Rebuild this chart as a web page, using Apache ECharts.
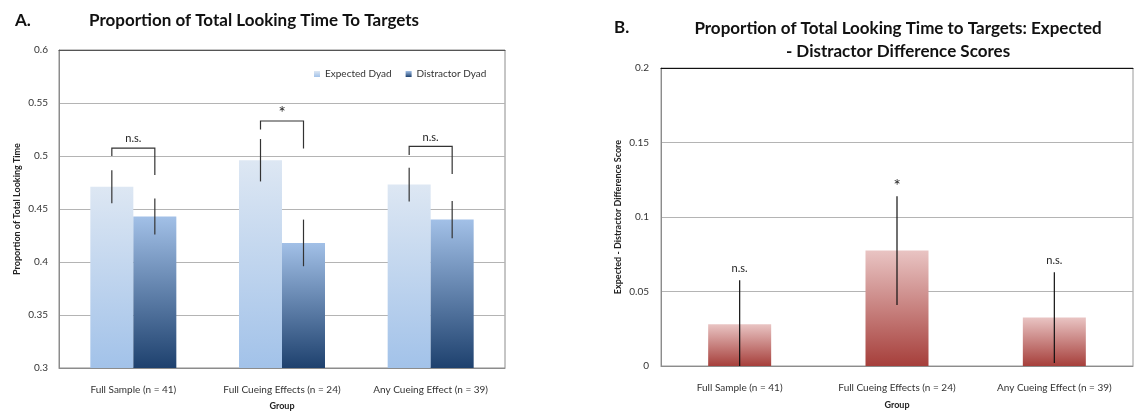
<!DOCTYPE html>
<html><head><meta charset="utf-8">
<script src="https://cdn.jsdelivr.net/npm/echarts@6/dist/echarts.min.js"></script>
<style>html,body{margin:0;padding:0;background:#fff}#c{width:1136px;height:412px}</style>
</head><body><div id="c"></div>
<script>
// ---- data ----
const categories = ['Full Sample (n = 41)', 'Full Cueing Effects (n = 24)', 'Any Cueing Effect (n = 39)'];
const expectedDyad = [0.471, 0.496, 0.473];
const expectedErr = [0.0155, 0.020, 0.016];
const distractorDyad = [0.443, 0.418, 0.440];
const distractorErr = [0.017, 0.022, 0.0175];
const bracketTop = [0.5075, 0.533, 0.509];
const bracketLeftEnd = [0.500, 0.525, 0.501];
const bracketRightEnd = [0.482, 0.507, 0.483];
const leftSig = ['n.s.', '*', 'n.s.'];
const leftTickLabels = ['0.3', '0.35', '0.4', '0.45', '0.5', '0.55', '0.6'];

const diffScore = [0.028, 0.0775, 0.0325];
const diffErr = [0.0295, 0.0365, 0.0305];
const rightSig = ['n.s.', '*', 'n.s.'];
const rightTickLabels = ['0', '0.05', '0.1', '0.15', '0.2'];

// ---- style ----
const FONT = 'Lato, "Liberation Sans", sans-serif';
const LBW = 43;   // left bar width px
const RBW = 63;   // right bar width px
const grad = (a, b) => new echarts.graphic.LinearGradient(0, 0, 0, 1, [{offset: 0, color: a}, {offset: 1, color: b}]);
const expColor = grad('#dde7f3', '#a2c2e9');
const disColor = grad('#a2c0e7', '#1e416e');
const redColor = grad('#e9c4c3', '#a63f3b');
const sigFont = s => (s === '*' ? '17px ' : '11px ') + FONT;
const sigLift = s => (s === '*' ? 0 : 5);

const chart = echarts.init(document.getElementById('c'), null, {renderer: 'canvas'});

function errSeries(name, vals, errs, offset, color, xi, yi, sig) {
  return {
    type: 'custom', name: name, xAxisIndex: xi, yAxisIndex: yi, z: 5, clip: true,
    data: vals.map((v, i) => [i, v - errs[i], v + errs[i]]),
    renderItem: function (params, api) {
      const i = api.value(0);
      const lo = api.coord([i, api.value(1)]);
      const hi = api.coord([i, api.value(2)]);
      const x = lo[0] + offset;
      const children = [{type: 'line', shape: {x1: x, y1: lo[1], x2: x, y2: hi[1]}, style: {stroke: color, lineWidth: 1.2}}];
      if (sig) {
        const s = sig[params.dataIndex];
        children.push({type: 'text', x: x, y: hi[1] - 1 - sigLift(s), style: {text: s, align: 'center', verticalAlign: 'bottom', font: sigFont(s), fill: '#222'}});
      }
      return {type: 'group', children: children};
    }
  };
}

const option = {
  backgroundColor: '#fff',
  animation: false,
  textStyle: {fontFamily: FONT},
  title: [
    {text: 'A.', left: 10, top: 7, textStyle: {fontFamily: FONT, fontSize: 17, fontWeight: 'bold', color: '#111'}},
    {text: 'Proportion of Total Looking Time To Targets', left: 84, top: 7, textStyle: {fontFamily: FONT, fontSize: 17, fontWeight: 'bold', color: '#111'}},
    {text: 'B.', left: 609, top: 14, textStyle: {fontFamily: FONT, fontSize: 17, fontWeight: 'bold', color: '#111'}},
    {text: 'Proportion of Total Looking Time to Targets: Expected\n- Distractor Difference Scores', left: 893, top: 12, textAlign: 'center',
     textStyle: {fontFamily: FONT, fontSize: 17, fontWeight: 'bold', color: '#111', lineHeight: 23}}
  ],
  legend: {
    data: ['Expected Dyad', 'Distractor Dyad'], left: 309, top: 64, icon: 'rect', itemWidth: 6, itemHeight: 6, itemGap: 14,
    textStyle: {fontFamily: FONT, fontSize: 10, color: '#333'}
  },
  grid: [
    {left: 59, top: 50, width: 446, height: 318, show: true, borderColor: '#8c8c8c', borderWidth: 1, containLabel: false, outerBoundsMode: 'none'},
    {left: 661, top: 68, width: 472, height: 298, show: true, borderColor: '#9a9a9a', borderWidth: 1, containLabel: false, outerBoundsMode: 'none'}
  ],
  xAxis: [
    {type: 'category', gridIndex: 0, data: categories,
     axisLine: {lineStyle: {color: '#8c8c8c'}}, axisTick: {length: 4, lineStyle: {color: '#8c8c8c'}},
     axisLabel: {interval: 0, margin: 17, fontSize: 10, color: '#333', fontFamily: FONT},
     name: 'Group', nameLocation: 'middle', nameGap: 34, nameTextStyle: {fontFamily: FONT, fontSize: 9, fontWeight: 'bold', color: '#222'}},
    {type: 'category', gridIndex: 1, data: categories,
     axisLine: {lineStyle: {color: '#8c8c8c'}}, axisTick: {length: 4, lineStyle: {color: '#8c8c8c'}},
     axisLabel: {interval: 0, margin: 17, fontSize: 10, color: '#333', fontFamily: FONT},
     name: 'Group', nameLocation: 'middle', nameGap: 35, nameTextStyle: {fontFamily: FONT, fontSize: 9, fontWeight: 'bold', color: '#222'}},
    {type: 'category', gridIndex: 0, position: 'top', data: categories, axisLine: {lineStyle: {color: '#555'}}, axisTick: {show: false}, axisLabel: {show: false}},
    {type: 'category', gridIndex: 1, position: 'top', data: categories, axisLine: {lineStyle: {color: '#111'}}, axisTick: {show: false}, axisLabel: {show: false}}
  ],
  yAxis: [
    {type: 'value', gridIndex: 0, min: 0.3, max: 0.6, interval: 0.05,
     axisLine: {show: true, lineStyle: {color: '#8c8c8c'}}, axisTick: {show: false},
     splitLine: {lineStyle: {color: '#b4b4b4'}},
     axisLabel: {margin: 11, fontSize: 10, color: '#333', fontFamily: FONT, formatter: (v, i) => leftTickLabels[i]},
     name: 'Proportion of Total Looking Time', nameLocation: 'middle', nameGap: 37,
     nameTextStyle: {fontFamily: FONT, fontSize: 9, fontWeight: 'bold', color: '#222'}},
    {type: 'value', gridIndex: 1, min: 0, max: 0.2, interval: 0.05,
     axisLine: {show: true, lineStyle: {color: '#8c8c8c'}}, axisTick: {show: false},
     splitLine: {lineStyle: {color: '#b4b4b4'}},
     axisLabel: {margin: 12, fontSize: 10, color: '#333', fontFamily: FONT, formatter: (v, i) => rightTickLabels[i]},
     name: 'Expected - Distractor Difference Score', nameLocation: 'middle', nameGap: 38,
     nameTextStyle: {fontFamily: FONT, fontSize: 9, fontWeight: 'bold', color: '#222'}}
  ],
  series: [
    {type: 'bar', name: 'Expected Dyad', xAxisIndex: 0, yAxisIndex: 0, data: expectedDyad, barWidth: LBW, barGap: '0%',
     itemStyle: {color: expColor}},
    {type: 'bar', name: 'Distractor Dyad', xAxisIndex: 0, yAxisIndex: 0, data: distractorDyad, barWidth: LBW, barGap: '0%',
     itemStyle: {color: disColor}},
    errSeries('expErr', expectedDyad, expectedErr, -LBW / 2, '#333', 0, 0, null),
    errSeries('disErr', distractorDyad, distractorErr, LBW / 2, '#333', 0, 0, null),
    {type: 'custom', name: 'brackets', xAxisIndex: 0, yAxisIndex: 0, z: 6,
     data: categories.map((c, i) => [i, bracketTop[i], bracketLeftEnd[i], bracketRightEnd[i]]),
     renderItem: function (params, api) {
       const i = api.value(0);
       const t = api.coord([i, api.value(1)]);
       const yl = api.coord([i, api.value(2)])[1];
       const yr = api.coord([i, api.value(3)])[1];
       const xl = t[0] - LBW / 2, xr = t[0] + LBW / 2;
       const s = leftSig[params.dataIndex];
       return {type: 'group', children: [
         {type: 'polyline', shape: {points: [[xl, yl], [xl, t[1]], [xr, t[1]], [xr, yr]]}, style: {stroke: '#333', fill: null, lineWidth: 1.2}},
         {type: 'text', x: t[0], y: t[1] + 1 - sigLift(s), style: {text: s, align: 'center', verticalAlign: 'bottom', font: sigFont(s), fill: '#222'}}
       ]};
     }},
    {type: 'bar', name: 'Difference', xAxisIndex: 1, yAxisIndex: 1, data: diffScore, barWidth: RBW,
     itemStyle: {color: redColor}},
    errSeries('diffErr', diffScore, diffErr, 0, '#111', 1, 1, rightSig)
  ]
};
chart.setOption(option);
</script>
</body></html>
